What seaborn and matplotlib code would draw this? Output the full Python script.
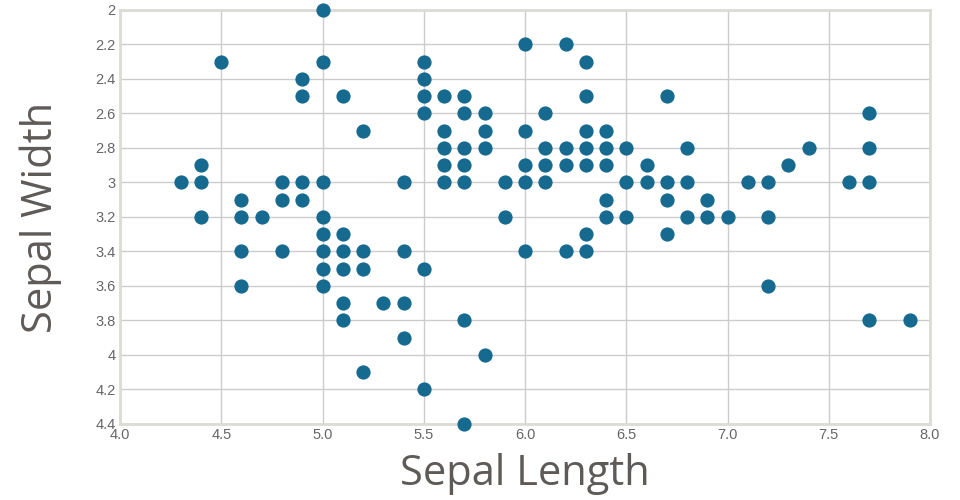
import matplotlib
matplotlib.use("Agg")
import matplotlib.pyplot as plt
import seaborn as sns
import pandas as pd

sepal_length = [
    5.1, 4.9, 4.7, 4.6, 5.0, 5.4, 4.6, 5.0, 4.4, 4.9, 5.4, 4.8, 4.8, 4.3, 5.8, 5.7, 5.4, 5.1, 5.7, 5.1,
    5.4, 5.1, 4.6, 5.1, 4.8, 5.0, 5.0, 5.2, 5.2, 4.7, 4.8, 5.4, 5.2, 5.5, 4.9, 5.0, 5.5, 4.9, 4.4, 5.1,
    5.0, 4.5, 4.4, 5.0, 5.1, 4.8, 5.1, 4.6, 5.3, 5.0,
    7.0, 6.4, 6.9, 5.5, 6.5, 5.7, 6.3, 4.9, 6.6, 5.2, 5.0, 5.9, 6.0, 6.1, 5.6, 6.7, 5.6, 5.8, 6.2, 5.6,
    5.9, 6.1, 6.3, 6.1, 6.4, 6.6, 6.8, 6.7, 6.0, 5.7, 5.5, 5.5, 5.8, 6.0, 5.4, 6.0, 6.7, 6.3, 5.6, 5.5,
    5.5, 6.1, 5.8, 5.0, 5.6, 5.7, 5.7, 6.2, 5.1, 5.7,
    6.3, 5.8, 7.1, 6.3, 6.5, 7.6, 4.9, 7.3, 6.7, 7.2, 6.5, 6.4, 6.8, 5.7, 5.8, 6.4, 6.5, 7.7, 7.7, 6.0,
    6.9, 5.6, 7.7, 6.3, 6.7, 7.2, 6.2, 6.1, 6.4, 7.2, 7.4, 7.9, 6.4, 6.3, 6.1, 7.7, 6.3, 6.4, 6.0, 6.9,
    6.7, 6.9, 5.8, 6.8, 6.7, 6.7, 6.3, 6.5, 6.2, 5.9,
]
sepal_width = [
    3.5, 3.0, 3.2, 3.1, 3.6, 3.9, 3.4, 3.4, 2.9, 3.1, 3.7, 3.4, 3.0, 3.0, 4.0, 4.4, 3.9, 3.5, 3.8, 3.8,
    3.4, 3.7, 3.6, 3.3, 3.4, 3.0, 3.4, 3.5, 3.4, 3.2, 3.1, 3.4, 4.1, 4.2, 3.1, 3.2, 3.5, 3.1, 3.0, 3.4,
    3.5, 2.3, 3.2, 3.5, 3.8, 3.0, 3.8, 3.2, 3.7, 3.3,
    3.2, 3.2, 3.1, 2.3, 2.8, 2.8, 3.3, 2.4, 2.9, 2.7, 2.0, 3.0, 2.2, 2.9, 2.9, 3.1, 3.0, 2.7, 2.2, 2.5,
    3.2, 2.8, 2.5, 2.8, 2.9, 3.0, 2.8, 3.0, 2.9, 2.6, 2.4, 2.4, 2.7, 2.7, 3.0, 3.4, 3.1, 2.3, 3.0, 2.5,
    2.6, 3.0, 2.6, 2.3, 2.7, 3.0, 2.9, 2.9, 2.5, 2.8,
    3.3, 2.7, 3.0, 2.9, 3.0, 3.0, 2.5, 2.9, 2.5, 3.6, 3.2, 2.7, 3.0, 2.5, 2.8, 3.2, 3.0, 3.8, 2.6, 2.2,
    3.2, 2.8, 2.8, 2.7, 3.3, 3.2, 2.8, 3.0, 2.8, 3.0, 2.8, 3.8, 2.8, 2.8, 2.6, 3.0, 3.4, 3.1, 3.0, 3.1,
    3.1, 3.1, 2.7, 3.2, 3.3, 3.0, 2.5, 3.0, 3.4, 3.0,
]
x_ticks = [4.0, 4.5, 5.0, 5.5, 6.0, 6.5, 7.0, 7.5, 8.0]
x_tick_labels = ["4.0", "4.5", "5.0", "5.5", "6.0", "6.5", "7.0", "7.5", "8.0"]
y_ticks = [2.0, 2.2, 2.4, 2.6, 2.8, 3.0, 3.2, 3.4, 3.6, 3.8, 4.0, 4.2, 4.4]
y_tick_labels = ["2", "2.2", "2.4", "2.6", "2.8", "3", "3.2", "3.4", "3.6", "3.8", "4", "4.2", "4.4"]

df = pd.DataFrame({"Sepal Length": sepal_length, "Sepal Width": sepal_width})
df_plot = df.drop_duplicates()

sns.set_style("white")
plt.rcParams["font.family"] = ["Liberation Sans", "DejaVu Sans"]

fig = plt.figure(figsize=(9.6, 5.0), dpi=100)
ax = fig.add_axes([120 / 960, 76 / 500, 810 / 960, 414 / 500])

sns.scatterplot(data=df_plot, x="Sepal Length", y="Sepal Width", ax=ax,
                color="#176a8f", s=105, linewidth=0, alpha=1, zorder=3, clip_on=False)

ax.set_xlim(4.0, 8.0)
ax.set_ylim(4.4, 2.0)
ax.set_xticks(x_ticks)
ax.set_xticklabels(x_tick_labels)
ax.set_yticks(y_ticks)
ax.set_yticklabels(y_tick_labels)
ax.grid(True, color="#cccccc", linewidth=1.0, zorder=0)
ax.set_axisbelow(True)
for s in ax.spines.values():
    s.set_visible(True)
    s.set_color("#dcdcd6")
    s.set_linewidth(2.0)
ax.tick_params(axis="both", length=0, labelsize=10.5, labelcolor="#666666", pad=3)
ax.tick_params(axis="x", pad=3)

ax.set_xlabel("Sepal Length", fontsize=30, color="#5e5a58", family=["Open Sans", "DejaVu Sans"],
              labelpad=8)
ax.set_ylabel("Sepal Width", fontsize=30, color="#5e5a58", family=["Open Sans", "DejaVu Sans"],
              labelpad=24)

fig.savefig("out.png", dpi=100)
